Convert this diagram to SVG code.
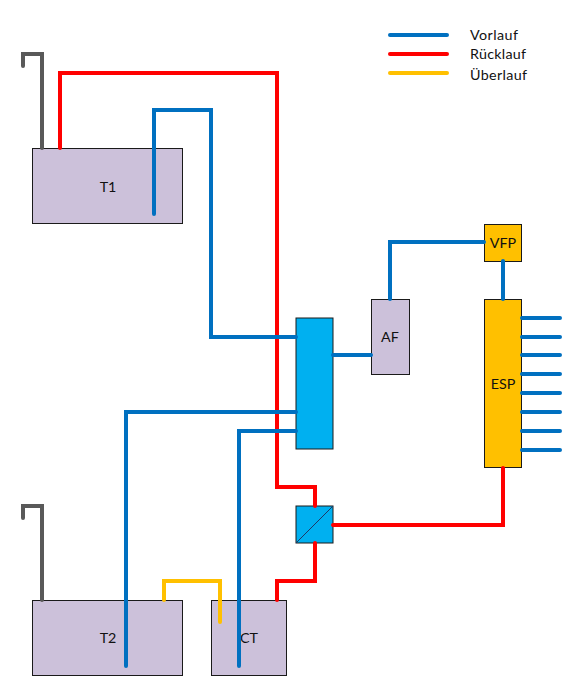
<svg xmlns="http://www.w3.org/2000/svg" width="582" height="697" viewBox="0 0 582 697">
<style>
.box{stroke:#1a1a1a;stroke-width:1}
.lilac{fill:#ccc1da}
.amber{fill:#ffc000}
.cyan{fill:#00b0f0}
text{font-family:Lato,"Open Sans","Liberation Sans",sans-serif;font-size:14.3px;fill:#111}
.c{text-anchor:middle}
.l{fill:none;stroke-width:4;stroke-linejoin:miter;stroke-linecap:round}
.b{stroke:#0070c0}
.r{stroke:#ff0000}
.y{stroke:#ffc000}
.g{stroke:#595959}
</style>
<rect width="582" height="697" fill="#fff"/>
<g id="T1"><rect class="box lilac" x="32.500" y="148.500" width="150" height="75"/><text class="c" x="108" y="192">T1</text></g>
<g id="T2"><rect class="box lilac" x="32.500" y="600.500" width="150" height="75"/><text class="c" x="108" y="643">T2</text></g>
<g id="CT"><rect class="box lilac" x="211.500" y="600.500" width="75" height="75"/><text class="c" x="249" y="643">CT</text></g>
<g id="AF"><rect class="box lilac" x="371.500" y="299.500" width="38" height="75"/><text class="c" x="390" y="342">AF</text></g>
<g id="VFP"><rect class="box amber" x="484.500" y="224.500" width="37" height="37"/><text class="c" x="503" y="248">VFP</text></g>
<g id="ESP"><rect class="box amber" x="484.500" y="299.500" width="37" height="168"/><text class="c" x="503" y="389">ESP</text></g>
<g id="HX"><rect class="box cyan" x="296" y="318" width="37" height="131"/></g>
<g id="WT"><rect class="box cyan" x="296" y="506" width="37" height="37"/><path d="M296 543L333 506" stroke="#1f3864" stroke-width="1" fill="none"/></g>
<g id="connectors">
<path class="l g" d="M42 148V54H23V66"/>
<path class="l g" d="M42 600V506H23V518"/>
<path class="l r" d="M60 148V73H277V487H315V506"/>
<path class="l r" d="M315 543V581H277V600"/>
<path class="l r" d="M333 525H503V468"/>
<path class="l b" d="M154 214V110H211V337H296"/>
<path class="l b" d="M126 666V412H296"/>
<path class="l b" d="M239 666V431H296"/>
<path class="l b" d="M333 355H371"/>
<path class="l b" d="M390 299V242H484"/>
<path class="l b" d="M503 261V299"/>
<path class="l b" d="M522 318H560M522 337H560M522 355H560M522 374H560M522 393H560M522 412H560M522 431H560M522 450H560"/>
<path class="l y" d="M164 600V581H220V622"/>
</g>
<g id="legend">
<path class="l b" d="M390 35H447"/><path class="l r" d="M390 54H447"/><path class="l y" d="M390 73H447"/>
<text x="470" y="40" textLength="48">Vorlauf</text><text x="470" y="59" textLength="56">Rücklauf</text><text x="470" y="80" textLength="57">Überlauf</text>
</g>
</svg>
